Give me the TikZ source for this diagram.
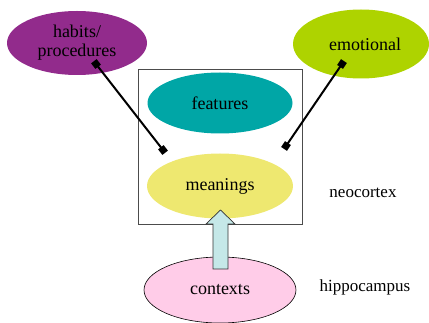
\documentclass[tikz,border=0pt]{standalone}
\usepackage{fontspec}
\setmainfont{Liberation Serif}
\usetikzlibrary{shapes.geometric}
\definecolor{cpurple}{HTML}{922B8C}
\definecolor{cgreen}{HTML}{AED300}
\definecolor{cteal}{HTML}{00A6A6}
\definecolor{cyellow}{HTML}{EEE870}
\definecolor{cpink}{HTML}{FFCCE8}
\definecolor{cblue}{HTML}{C5E8E8}
\tikzset{
  blob/.style={ellipse, inner sep=0pt, font=\fontsize{18}{18}\selectfont},
  lbl/.style={font=\fontsize{17}{18}\selectfont},
  link/.style={line width=2pt},
  sq/.style={fill=black, minimum size=7pt, inner sep=0pt},
}
\begin{document}
\begin{tikzpicture}[x=1pt,y=-1pt]
\useasboundingbox (0,0) rectangle (429,323);
\node[draw=black!70, line width=0.8pt, minimum width=164pt, minimum height=155pt, inner sep=0pt] (box) at (220,146.5) {};
\node[blob, fill=cpurple, minimum width=140pt, minimum height=64pt, align=center] (habits) at (77,43) {habits/\\[1pt]procedures};
\node[blob, fill=cgreen, minimum width=136pt, minimum height=69pt, text width=80pt, align=right] (emo) at (361,44) {emotional};
\node[blob, fill=cteal, minimum width=145pt, minimum height=61pt] (feat) at (220,103) {features};
\node[blob, fill=cyellow, minimum width=146pt, minimum height=65pt] (mean) at (220,186) {meanings};
\node[blob, fill=cpink, draw=black, line width=0.6pt, minimum width=152pt, minimum height=66pt] (ctx) at (220,290) {contexts};
\node[lbl] (neo) at (363,193) {neocortex};
\node[lbl] (hip) at (365,287) {hippocampus};
\coordinate (hA) at (96,64);
\coordinate (hB) at (163,150);
\coordinate (eA) at (342,64);
\coordinate (eB) at (286,146);
\draw[link] (hA) -- (hB);
\draw[link] (eA) -- (eB);
\node[sq, rotate=-52] at (hA) {};
\node[sq, rotate=-52] at (hB) {};
\node[sq, rotate=56] at (eA) {};
\node[sq, rotate=56] at (eB) {};
\coordinate (aT) at (220.5,210);
\draw[fill=cblue, draw=black!80, line width=0.7pt] (213,269) -- (213,224) -- (206,224) -- (aT) -- (235,224) -- (228,224) -- (228,269) -- cycle;
\end{tikzpicture}
\end{document}
